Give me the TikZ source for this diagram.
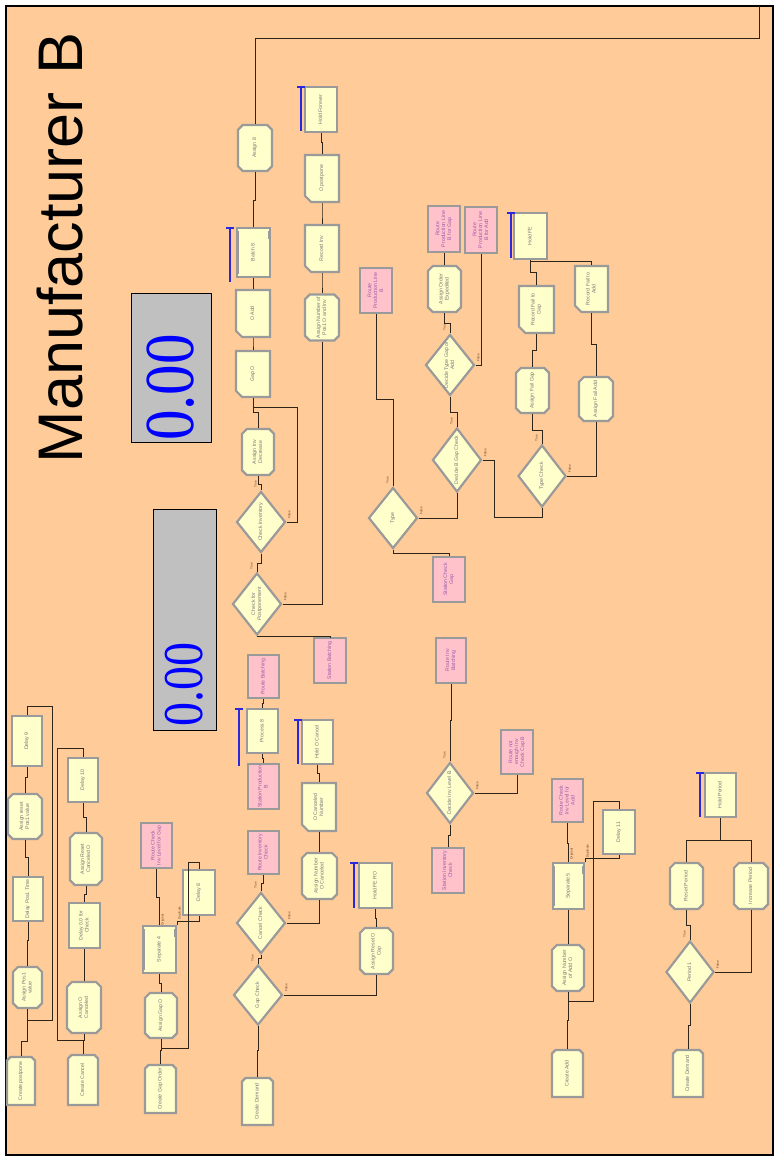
\documentclass[tikz,border=0pt]{standalone}
\usepackage{fontspec}
\setmainfont{Liberation Sans}
\newfontfamily\dispfont{Liberation Serif}
\usetikzlibrary{shapes.geometric,shapes.misc,calc}

\definecolor{peach}{HTML}{FFCC99}
\definecolor{modfill}{HTML}{FFFFCC}
\definecolor{modedge}{HTML}{9A9A9A}
\definecolor{routefill}{HTML}{FFC2CB}
\definecolor{modtext}{HTML}{777777}
\definecolor{routetext}{HTML}{9A5AA8}
\definecolor{flowline}{HTML}{2E2418}
\definecolor{queueblue}{HTML}{2828E0}
\definecolor{dispgray}{HTML}{C0C0C0}
\definecolor{tfbrown}{HTML}{6A4020}

% rotated, centred multi-line label
\newcommand\rt[1]{\rotatebox{90}{\begin{tabular}{@{}c@{}}#1\end{tabular}}}
% module from its corners: style, name, x1, y1, x2, y2, text
\newcommand\mb[7]{\node[#1, minimum width={#5-#3}, minimum height={#6-#4}] (#2) at ({(#3+#5)/2},{(#4+#6)/2}) {\rt{#7}};}
% decide module: name, cx, cy, width, height, text
\newcommand\md[6]{%
  \node[decide, minimum width=#4, minimum height=#5] (#1) at (#2,#3) {};
  \node[dectext] (#1-t) at (#1) {\rt{#6}};
  \node[tflab] (#1-T) at ($(#1.north)+(-5,-6)$) {\rt{True}};
  \node[tflab] (#1-F) at ($(#1.east)+(3,-7)$) {\rt{False}};}
% queue bar beside a module: x, top, bottom
\newcommand\qbar[3]{\draw[queue] (#1-4,#2) -- (#1+4,#2); \draw[queue] (#1,#2) -- (#1,#3);}
% connector with one vertical jog: from, to, y of the horizontal part
\newcommand\vcon[3]{\draw[flow] (#1) -- (#1 |- 0,#3) -| (#2);}
% notches on the sides of a separate or batch module
\newcommand\notch[1]{%
  \draw[draw=modedge, line width=1pt] ([xshift=2.5pt,yshift=-4pt]#1.north west) -- ([xshift=2.5pt,yshift=4pt]#1.south west);
  \draw[draw=modedge, line width=1pt] ([xshift=-2.5pt,yshift=-4pt]#1.north east) -- ([xshift=-2.5pt,yshift=-12pt]#1.north east);}

\tikzset{
  module/.style={draw=modedge, line width=2.2pt, fill=modfill, inner sep=0pt,
                 text=modtext, font=\fontsize{5.2}{5.9}\selectfont},
  proc/.style={module, rectangle},
  asg/.style={module, chamfered rectangle, chamfered rectangle xsep=2.4pt,
              chamfered rectangle ysep=2.4pt},
  rec/.style={module, chamfered rectangle, chamfered rectangle corners=south west,
              chamfered rectangle xsep=3.2pt, chamfered rectangle ysep=3.2pt},
  crt/.style={module, chamfered rectangle, chamfered rectangle corners={north west,north east},
              chamfered rectangle xsep=2pt, chamfered rectangle ysep=1.5pt},
  sep/.style={module, rectangle},
  route/.style={module, rectangle, fill=routefill, text=routetext},
  decide/.style={module, diamond},
  dectext/.style={inner sep=0pt, text=modtext, font=\fontsize{5.2}{5.9}\selectfont},
  tflab/.style={inner sep=0pt, text=tfbrown, font=\fontsize{3.2}{3.6}\selectfont},
  flow/.style={draw=flowline, line width=0.9pt},
  queue/.style={draw=queueblue, line width=1.2pt},
  display/.style={draw=black, line width=1pt, fill=dispgray, inner sep=0pt},
  readout/.style={rotate=90, anchor=west, inner sep=0pt, text=blue},
  title/.style={inner sep=0pt, text=black, font=\fontsize{63}{70}\selectfont}
}

\begin{document}
\begin{tikzpicture}[x=1pt,y=-1pt]
\useasboundingbox (0,0) rectangle (776,1162);
\fill[white] (0,0) rectangle (776,1162);
\draw[line width=1.3pt, fill=peach] (6,6) rectangle (773,1155);

% title and readouts
\node[title] (title) at (60,248) {\rotatebox{90}{Manufacturer B}};
\node[display, minimum width=80, minimum height=149] (disp1) at (171,367.5) {};
\node[readout, font=\dispfont\fontsize{61}{61}\selectfont] (disp1v) at (171,441) {\scalebox{1}[1.15]{0.00}};
\node[display, minimum width=63, minimum height=221] (disp2) at (184.5,619.5) {};
\node[readout, font=\dispfont\fontsize{48}{48}\selectfont] (disp2v) at (184.5,727) {\scalebox{1}[1.17]{0.00}};

% postpone and cancel loops
\mb{proc}{delay9}{12}{716}{42}{766}{Delay 9}
\mb{asg}{asgResetPos}{8}{794}{42}{839}{Assign reset\\Pos1 value}
\mb{proc}{delayPos}{13}{877}{43}{921}{Delay Pos1 Time}
\mb{asg}{asgPos}{13}{967}{42}{1008}{Assign Pos1\\value}
\mb{crt}{createPost}{7}{1057}{35}{1105}{Create postpone}
\mb{proc}{delay10}{68}{758}{98}{802}{Delay 10}
\mb{asg}{asgResetCanc}{70}{833}{102}{885}{Assign Reset\\Canceled O}
\mb{proc}{delayCheck}{69}{903}{100}{948}{Delay 0.0 for\\Check}
\mb{asg}{asgOCanc}{67}{982}{101}{1033}{Assign O\\Canceled}
\mb{crt}{createCancel}{68}{1055}{98}{1105}{Create Cancel}

% gap orders
\mb{route}{routeChkGap}{141}{823}{172}{868}{Route Check\\Inv Level for Gap}
\mb{proc}{delay8}{183}{870}{215}{915}{Delay 8}
\mb{sep}{sep4}{143}{926}{176}{973}{Separate 4}
\notch{sep4}
\mb{asg}{asgGapO}{145}{993}{177}{1038}{Assign Gap O}
\mb{crt}{createGap}{145}{1065}{176}{1113}{Create Gap Order}

% demand handling
\mb{asg}{assign8}{238}{125}{272}{171}{Assign 8}
\mb{sep}{batch8}{237}{228}{270}{277}{Batch 8}
\notch{batch8}
\mb{rec}{oAdd}{236}{290}{270}{337}{O Add}
\mb{rec}{gapO}{236}{351}{270}{397}{Gap O}
\mb{asg}{asgInvDec}{242}{429}{274}{475}{Assign Inv\\Decrease}
\md{chkInv}{261}{522}{49}{61}{Check Inventory}
\md{chkPost}{257}{604}{49}{62}{Check for\\Postponement}
\mb{route}{routeBatch}{248}{655}{279}{698}{Route Batching}
\mb{proc}{process8}{247}{709}{278}{753}{Process 8}
\mb{route}{stationProdB}{248}{764}{279}{809}{Station Production\\B}
\mb{route}{routeInvChk}{248}{831}{279}{874}{Route Inventory\\Check}
\md{cancelChk}{261}{923}{49}{61}{Cancel Check}
\md{gapChk}{258}{995}{49}{60}{Gap Check}
\mb{crt}{createDemandA}{242}{1078}{273}{1125}{Create Demand}

\mb{proc}{holdForever}{305}{87}{337}{132}{Hold Forever}
\mb{rec}{oPostpone}{305}{155}{339}{202}{O postpone}
\mb{rec}{recordInv}{305}{225}{339}{272}{Record Inv}
\mb{asg}{asgNumPos}{305}{295}{339}{340}{Assign Number of\\Pos1 O and Inv}
\mb{route}{stationBatch}{314}{638}{346}{683}{Station Batching}
\mb{proc}{holdOCancel}{302}{720}{333}{764}{Hold O Cancel}
\mb{rec}{oCancNum}{302}{783}{336}{831}{O Canceled\\Number}
\mb{asg}{asgNumOCanc}{302}{853}{337}{899}{Assign Number\\O Canceled}
\mb{proc}{holdFERO}{359}{863}{392}{908}{Hold FE RO}
\mb{asg}{asgResetOCap}{360}{928}{393}{974}{Assign Reset O\\Cap}

% production lines
\mb{route}{routePLB}{360}{268}{392}{313}{Route\\Production Line\\B}
\md{typeDec}{393}{518}{49}{61}{Type}
\mb{route}{routePLBGap}{428}{206}{460}{252}{Route\\Production Line\\B for Gap}
\mb{route}{routePLBAdd}{465}{207}{497}{253}{Route\\Production Line\\B for Add}
\mb{asg}{asgOrdExp}{428}{266}{461}{312}{Assign Order\\Expedited}
\md{decTypeGapAdd}{450}{365}{49}{61}{Decide Type Gap or\\Add}
\md{decBGap}{457}{460}{49}{64}{Decide B Gap Check}
\mb{route}{stationChkGap}{433}{557}{465}{602}{Station Check\\Gap}
\mb{proc}{holdFE}{514}{213}{547}{259}{Hold FE}
\mb{rec}{recFailGap}{519}{286}{554}{333}{Record Fail to\\Gap}
\mb{rec}{recFailAdd}{575}{266}{608}{312}{Record Fail to\\Add}
\mb{asg}{asgFailGap}{516}{368}{549}{413}{Assign Fail Gap}
\mb{asg}{asgFailAdd}{579}{377}{613}{421}{Assign Fail Add}
\md{typeChk}{542}{476}{48}{62}{Type Check}

% inventory checks
\mb{route}{routeInvBatch}{436}{638}{466}{683}{Route Inv\\Batching}
\mb{route}{routeNotEnough}{501}{730}{533}{774}{Route not\\enough Inv\\Check Cap B}
\md{decInvLevel}{450}{793}{47}{61}{Decide Inv Level B}
\mb{route}{stationInvChk}{432}{848}{464}{893}{Station Inventory\\Check}

% add orders
\mb{route}{routeChkAdd}{552}{779}{583}{822}{Route Check\\Inv Level for\\Add}
\mb{proc}{delay11}{603}{810}{635}{854}{Delay 11}
\mb{sep}{sep5}{553}{863}{584}{909}{Separate 5}
\notch{sep5}
\mb{asg}{asgNumAdd}{552}{945}{584}{991}{Assign Number\\of Add O}
\mb{crt}{createAdd}{552}{1050}{583}{1097}{Create Add}

% demand period
\mb{proc}{holdPeriod}{705}{773}{736}{817}{Hold Period}
\mb{asg}{resetPeriod}{670}{863}{703}{909}{Reset Period}
\mb{asg}{incPeriod}{734}{863}{768}{909}{Increase Period}
\md{periodDec}{690}{972}{48}{62}{Period 1}
\mb{crt}{createDemandB}{673}{1050}{703}{1097}{Create Demand}

% separate exit labels
\node[tflab] (sep4-o) at (163,920) {\rt{Original}};
\node[tflab] (sep4-d) at (180,913) {\rt{Duplicate}};
\node[tflab] (sep5-o) at (572,854) {\rt{Original}};
\node[tflab] (sep5-d) at (588,851) {\rt{Duplicate}};

% queues
\qbar{239}{709}{766}
\qbar{298}{720}{764}
\qbar{354}{863}{908}
\qbar{301}{87}{131}
\qbar{230}{228}{282}
\qbar{511}{213}{258}
\qbar{700}{773}{817}

% connectors
\coordinate (offpage) at (759,6);

\vcon{createPost.north}{asgPos.south}{1041}
\draw[flow] (delay9.north) -- (delay9.north |- 0,706) -- (52,706) -- (52,1020) -- (asgPos.south |- 0,1020);
\vcon{asgPos.north}{delayPos.south}{940}
\vcon{delayPos.north}{asgResetPos.south}{857}
\vcon{asgResetPos.north}{delay9.south}{777}

\vcon{createCancel.north}{asgOCanc.south}{1040}
\draw[flow] (delay10.north) -- (delay10.north |- 0,748) -- (57,748) -- (57,1040) -- (asgOCanc.south |- 0,1040);
\vcon{asgOCanc.north}{delayCheck.south}{965}
\vcon{delayCheck.north}{asgResetCanc.south}{894}
\vcon{asgResetCanc.north}{delay10.south}{817}

\vcon{createGap.north}{asgGapO.south}{1050}
\draw[flow] (delay8.north) -- (delay8.north |- 0,862) -- (188,862) -- (188,1048) -- (asgGapO.south |- 0,1048);
\vcon{asgGapO.north}{sep4.south}{983}
\vcon{sep4.north}{routeChkGap.south}{897}
\draw[flow] (sep4.north east) -- (sep4.north east |- 0,921) -| (delay8.south);

\draw[flow] (assign8.north) -- (assign8.north |- 0,38) -- (offpage |- 0,38) -- (offpage);
\vcon{assign8.south}{batch8.north}{200}
\vcon{batch8.south}{oAdd.north}{283}
\vcon{oAdd.south}{gapO.north}{344}
\vcon{gapO.south}{asgInvDec.north}{412}
\draw[flow] (chkInv.east) -- (297,522) -- (297,407) -- (gapO.south |- 0,407);
\vcon{asgInvDec.south}{chkInv.north}{484}
\vcon{chkInv.south}{chkPost.north}{563}
\draw[flow] (chkPost.east) -| (asgNumPos.south);
\vcon{chkPost.south}{stationBatch.north}{636.5}
\vcon{routeBatch.south}{process8.north}{703}
\vcon{process8.south}{stationProdB.north}{758}
\vcon{cancelChk.north}{routeInvChk.south}{883}
\vcon{gapChk.north}{cancelChk.south}{958}
\vcon{gapChk.south}{createDemandA.north}{1050}
\draw[flow] (gapChk.east) -| (asgResetOCap.south);
\vcon{asgResetOCap.north}{holdFERO.south}{918}
\draw[flow] (cancelChk.east) -| (asgNumOCanc.south);
\vcon{asgNumOCanc.north}{oCancNum.south}{842}
\vcon{oCancNum.north}{holdOCancel.south}{773}

\vcon{holdForever.south}{oPostpone.north}{142}
\vcon{oPostpone.south}{recordInv.north}{213}
\vcon{recordInv.south}{asgNumPos.north}{283}

\vcon{typeDec.north}{routePLB.south}{399}
\draw[flow] (typeDec.east) -| (decBGap.south);
\vcon{typeDec.south}{stationChkGap.north}{553}
\vcon{asgOrdExp.north}{routePLBGap.south}{259}
\vcon{asgOrdExp.south}{decTypeGapAdd.north}{323}
\draw[flow] (decTypeGapAdd.east) -| (routePLBAdd.south);
\vcon{decTypeGapAdd.south}{decBGap.north}{412}
\draw[flow] (decBGap.east) -- (494,460) -- (494,517) -| (typeChk.south);
\vcon{typeChk.north}{asgFailGap.south}{430}
\draw[flow] (typeChk.east) -| (asgFailAdd.south);
\vcon{holdFE.south}{recFailAdd.north}{261}
\vcon{holdFE.south}{recFailGap.north}{272}
\vcon{recFailGap.south}{asgFailGap.north}{350}
\vcon{recFailAdd.south}{asgFailAdd.north}{344}

\vcon{decInvLevel.north}{routeInvBatch.south}{720}
\draw[flow] (decInvLevel.east) -| (routeNotEnough.south);
\vcon{decInvLevel.south}{stationInvChk.north}{835}

\vcon{routeChkAdd.south}{sep5.north}{843}
\draw[flow] (sep5.north east) -- (sep5.north east |- 0,858) -| (delay11.south);
\draw[flow] (delay11.north) -- (delay11.north |- 0,801) -- (593,801) -- (593,1001) -- (asgNumAdd.south |- 0,1001);
\vcon{createAdd.north}{asgNumAdd.south}{1020}
\vcon{asgNumAdd.north}{sep5.south}{927}

\vcon{holdPeriod.south}{resetPeriod.north}{840}
\vcon{holdPeriod.south}{incPeriod.north}{840}
\vcon{resetPeriod.south}{periodDec.north}{925}
\draw[flow] (periodDec.east) -| (incPeriod.south);
\vcon{periodDec.south}{createDemandB.north}{1025}
\end{tikzpicture}
\end{document}
